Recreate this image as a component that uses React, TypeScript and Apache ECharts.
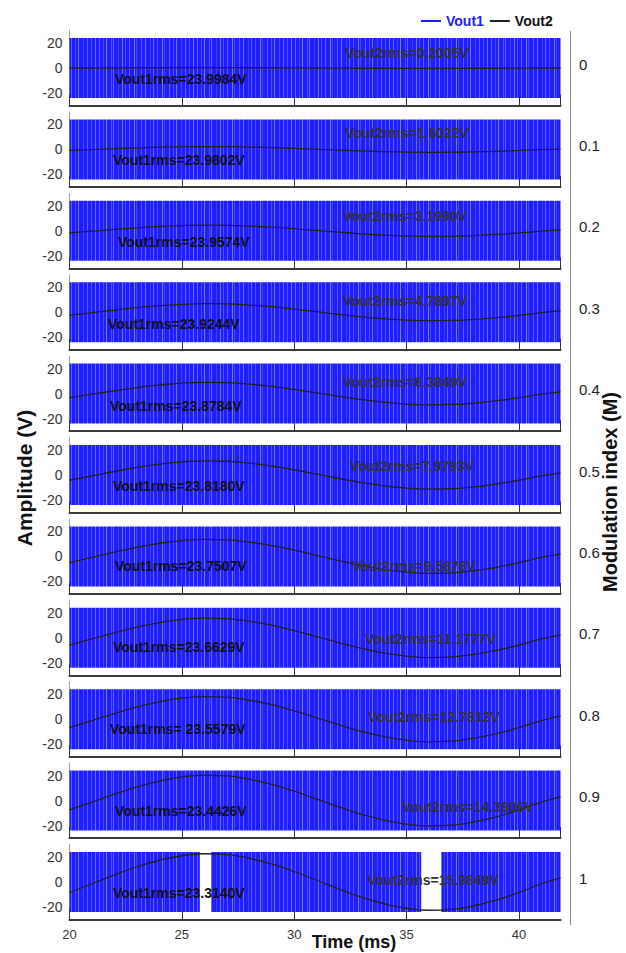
import React, { useEffect, useRef } from 'react';
import * as echarts from 'echarts';

// ---------------- data ----------------
const TIME = [20, 21, 22, 23, 24, 25, 26, 27, 28, 29, 30, 31, 32, 33, 34, 35, 36, 37, 38, 39, 40, 41, 41.85];
const MOD_INDEX = ['0', '0.1', '0.2', '0.3', '0.4', '0.5', '0.6', '0.7', '0.8', '0.9', '1'];
const Y_TICKS = [-20, 0, 20];
const X_MIN = 20;
const X_MAX = 41.85;
const X_STEP = 5;
const Y_MIN = -30;
const Y_MAX = 30;
const VOUT1_LEVEL = 24;

// Vout1 (PWM) filled spans [start, end] in ms for each modulation index
const VOUT1_SEGMENTS = [
  [[20, 41.85]],
  [[20, 41.85]],
  [[20, 41.85]],
  [[20, 41.85]],
  [[20, 41.85]],
  [[20, 41.85]],
  [[20, 41.85]],
  [[20, 41.85]],
  [[20, 41.85]],
  [[20, 41.85]],
  [[20, 25.8], [26.3, 35.65], [36.55, 41.85]],
];

// Vout2 (filtered output), read at TIME points
const VOUT2_M00 = [-0.1, 0, 0.1, 0.2, 0.2, 0.3, 0.3, 0.3, 0.2, 0.2, 0.1, 0, -0.1, -0.2, -0.2, -0.3, -0.3, -0.3, -0.2, -0.2, -0.1, 0, 0];
const VOUT2_M01 = [-0.8, -0.1, 0.6, 1.2, 1.8, 2.1, 2.3, 2.2, 1.9, 1.5, 0.8, 0.1, -0.6, -1.2, -1.8, -2.1, -2.3, -2.2, -1.9, -1.5, -0.8, -0.1, 0.3];
const VOUT2_M02 = [-1.7, -0.3, 1.1, 2.4, 3.5, 4.2, 4.5, 4.4, 3.8, 2.9, 1.7, 0.3, -1.1, -2.4, -3.5, -4.2, -4.5, -4.4, -3.8, -2.9, -1.7, -0.3, 0.7];
const VOUT2_M03 = [-2.5, -0.4, 1.7, 3.7, 5.2, 6.3, 6.8, 6.6, 5.7, 4.4, 2.5, 0.4, -1.7, -3.7, -5.2, -6.3, -6.8, -6.6, -5.7, -4.4, -2.5, -0.4, 1.0];
const VOUT2_M04 = [-3.3, -0.5, 2.2, 4.8, 6.9, 8.4, 9.0, 8.7, 7.6, 5.7, 3.3, 0.5, -2.2, -4.8, -6.9, -8.4, -9.0, -8.7, -7.6, -5.7, -3.3, -0.5, 1.3];
const VOUT2_M05 = [-4.2, -0.7, 2.8, 6.1, 8.7, 10.5, 11.3, 11.0, 9.5, 7.2, 4.2, 0.7, -2.8, -6.1, -8.7, -10.5, -11.3, -11.0, -9.5, -7.2, -4.2, -0.7, 1.7];
const VOUT2_M06 = [-5.0, -0.8, 3.4, 7.3, 10.5, 12.6, 13.6, 13.2, 11.4, 8.7, 5.0, 0.8, -3.4, -7.3, -10.5, -12.6, -13.6, -13.2, -11.4, -8.7, -5.0, -0.8, 2.0];
const VOUT2_M07 = [-5.8, -0.9, 4.0, 8.5, 12.2, 14.7, 15.8, 15.3, 13.3, 10.1, 5.8, 0.9, -4.0, -8.5, -12.2, -14.7, -15.8, -15.3, -13.3, -10.1, -5.8, -0.9, 2.4];
const VOUT2_M08 = [-6.7, -1.1, 4.5, 9.8, 13.9, 16.8, 18.1, 17.6, 15.2, 11.6, 6.7, 1.1, -4.5, -9.8, -13.9, -16.8, -18.1, -17.6, -15.2, -11.6, -6.7, -1.1, 2.7];
const VOUT2_M09 = [-7.5, -1.2, 5.1, 11.0, 15.6, 18.9, 20.3, 19.7, 17.1, 13.0, 7.5, 1.2, -5.1, -11.0, -15.6, -18.9, -20.3, -19.7, -17.1, -13.0, -7.5, -1.2, 3.0];
const VOUT2_M10 = [-8.4, -1.4, 5.7, 12.2, 17.4, 21.0, 22.6, 21.9, 19.0, 14.5, 8.4, 1.4, -5.7, -12.2, -17.4, -21.0, -22.6, -21.9, -19.0, -14.5, -8.4, -1.4, 3.3];
const VOUT2 = [VOUT2_M00, VOUT2_M01, VOUT2_M02, VOUT2_M03, VOUT2_M04, VOUT2_M05, VOUT2_M06, VOUT2_M07, VOUT2_M08, VOUT2_M09, VOUT2_M10];

const VOUT1_RMS = ['23.9984', '23.9802', '23.9574', '23.9244', '23.8784', '23.8180', '23.7507', '23.6629', ' 23.5579', '23.4426', '23.3140'];
const VOUT2_RMS = ['0.2005', '1.6022', '3.1990', '4.7897', '6.3849', '7.9793', '9.5876', '11.1777', '12.7812', '14.3806', '15.9849'];

// ---------------- layout / style ----------------
const FONT = '"Liberation Sans", Arial, Helvetica, sans-serif';
const PANEL_TOP0 = 30.5;
const PANEL_STEP = 81.4;
const PANEL_H = 75;
const PLOT_LEFT = 69.5;
const PLOT_W = 491;
const BLUE = '#1e1eff';
// [left x, offset from zero line]
const VOUT1_LABEL_POS = [[115, 11], [113, 11], [118, 11], [108, 12], [110, 12], [113, 11], [115, 10], [113, 9], [110, 10], [115, 10], [113, 11]];
const VOUT2_LABEL_POS = [[345, -15], [345, -16], [343, -15], [343, -11], [343, -12], [350, -9], [352, 10], [365, 1], [368, -2], [402, 6], [367, -2]];
// texture of the dense PWM pulses: [x offset in tile, white alpha]
const STRIPES = [
  [1, 0.3], [5, 0.18], [8, 0.4], [13, 0.22], [15, 0.3], [20, 0.15], [24, 0.35], [27, 0.2], [31, 0.28],
  [36, 0.4], [38, 0.18], [43, 0.25], [47, 0.35], [52, 0.15], [55, 0.3], [59, 0.22], [64, 0.38], [66, 0.16],
  [71, 0.28], [75, 0.2], [78, 0.36], [83, 0.18], [87, 0.3], [91, 0.22], [95, 0.35],
];
const TILE_W = 98;

export default function App() {
  const ref = useRef<HTMLDivElement>(null);

  useEffect(() => {
    document.body.style.margin = '0';
    if (!ref.current) return;
    const chart = echarts.init(ref.current, undefined, { renderer: 'svg' });

    const cv = document.createElement('canvas');
    cv.width = TILE_W;
    cv.height = 8;
    const ctx = cv.getContext('2d');
    if (ctx) {
      ctx.fillStyle = BLUE;
      ctx.fillRect(0, 0, TILE_W, 8);
      STRIPES.forEach(([x, a]) => {
        ctx.fillStyle = `rgba(255,255,255,${a})`;
        ctx.fillRect(x, 0, 1, 8);
      });
    }
    const pattern: any = { image: cv, repeat: 'repeat', imageWidth: TILE_W, imageHeight: 8 };

    const n = MOD_INDEX.length;
    const grids: any[] = [];
    const xAxes: any[] = [];
    const yAxes: any[] = [];
    const series: any[] = [];
    const graphics: any[] = [];

    for (let i = 0; i < n; i++) {
      const top = PANEL_TOP0 + i * PANEL_STEP;
      const zeroY = top + PANEL_H / 2;
      grids.push({ left: PLOT_LEFT, top, width: PLOT_W, height: PANEL_H, containLabel: false, outerBoundsMode: 'none' });
      xAxes.push({
        type: 'value', gridIndex: i, min: X_MIN, max: X_MAX, interval: X_STEP,
        axisLine: { show: true, onZero: false, lineStyle: { color: '#3a3a3a', width: 2 } },
        axisTick: { show: true, inside: true, length: 11, lineStyle: { color: '#333', width: 1 } },
        axisLabel: { show: i === n - 1, color: '#333', fontSize: 13, fontFamily: FONT, margin: 8, showMaxLabel: false },
        splitLine: { show: false },
      });
      yAxes.push({
        type: 'value', gridIndex: i, min: Y_MIN, max: Y_MAX,
        axisLine: { show: true, onZero: false, lineStyle: { color: '#a0a0a0', width: 1 } },
        axisTick: { show: true, inside: true, length: 4, customValues: Y_TICKS, lineStyle: { color: '#999' } },
        axisLabel: { show: true, customValues: Y_TICKS, color: '#333', fontSize: 14, fontFamily: FONT, margin: 7 },
        splitLine: { show: false },
      });
      series.push({
        type: 'custom', name: 'Vout1', xAxisIndex: i, yAxisIndex: i, silent: true, z: 1,
        itemStyle: { color: BLUE },
        encode: { x: [0, 1], y: 2 },
        data: VOUT1_SEGMENTS[i].map((s) => [s[0], s[1], VOUT1_LEVEL]),
        renderItem: (params: any, api: any) => {
          const p0 = api.coord([api.value(0), api.value(2)]);
          const p1 = api.coord([api.value(1), -api.value(2)]);
          return {
            type: 'rect',
            shape: { x: p0[0], y: p0[1], width: p1[0] - p0[0], height: p1[1] - p0[1] },
            style: { fill: pattern },
          };
        },
      });
      series.push({
        type: 'line', name: 'Vout2', xAxisIndex: i, yAxisIndex: i, z: 3,
        data: TIME.map((t, j) => [t, VOUT2[i][j]]),
        smooth: true, showSymbol: false, symbol: 'none', silent: true,
        lineStyle: { color: '#222', width: 1.3 },
        itemStyle: { color: '#222' },
      });
      graphics.push({
        type: 'text', x: VOUT1_LABEL_POS[i][0], y: zeroY + VOUT1_LABEL_POS[i][1], z: 10,
        style: {
          text: 'Vout1rms=' + VOUT1_RMS[i] + 'V', fill: '#111', font: `bold 14px ${FONT}`,
          textAlign: 'left', align: 'left', textVerticalAlign: 'middle', verticalAlign: 'middle',
        },
      });
      graphics.push({
        type: 'text', x: VOUT2_LABEL_POS[i][0], y: zeroY + VOUT2_LABEL_POS[i][1], z: 10,
        style: {
          text: 'Vout2rms=' + VOUT2_RMS[i] + 'V', fill: '#333', font: `bold 14px ${FONT}`,
          textAlign: 'left', align: 'left', textVerticalAlign: 'middle', verticalAlign: 'middle',
        },
      });
      graphics.push({
        type: 'text', x: 579, y: zeroY - 4, z: 10,
        style: {
          text: MOD_INDEX[i], fill: '#222', font: `15px ${FONT}`,
          textAlign: 'left', align: 'left', textVerticalAlign: 'middle', verticalAlign: 'middle',
        },
      });
    }

    graphics.push({ type: 'line', shape: { x1: 570.5, y1: 31, x2: 570.5, y2: 925 }, style: { stroke: '#888', lineWidth: 1 } });
    graphics.push({
      type: 'text', x: 24, y: 478, rotation: Math.PI / 2,
      style: { text: 'Amplitude (V)', fill: '#111', font: `bold 21px ${FONT}`, textAlign: 'center', align: 'center', textVerticalAlign: 'middle', verticalAlign: 'middle' },
    });
    graphics.push({
      type: 'text', x: 610, y: 492, rotation: Math.PI / 2,
      style: { text: 'Modulation index (M)', fill: '#111', font: `bold 20px ${FONT}`, textAlign: 'center', align: 'center', textVerticalAlign: 'middle', verticalAlign: 'middle' },
    });
    graphics.push({
      type: 'text', x: 354, y: 942,
      style: { text: 'Time (ms)', fill: '#111', font: `bold 18px ${FONT}`, textAlign: 'center', align: 'center', textVerticalAlign: 'middle', verticalAlign: 'middle' },
    });

    chart.setOption({
      animation: false,
      backgroundColor: '#fff',
      legend: {
        left: 416, top: 9, itemWidth: 20, itemHeight: 2, itemGap: 6, icon: 'rect', selectedMode: false,
        textStyle: { fontWeight: 'bold', fontSize: 14, fontFamily: FONT },
        data: [
          { name: 'Vout1', icon: 'rect', itemStyle: { color: BLUE }, textStyle: { color: BLUE } },
          { name: 'Vout2', icon: 'rect', itemStyle: { color: '#222' }, textStyle: { color: '#111' } },
        ],
      },
      grid: grids,
      xAxis: xAxes,
      yAxis: yAxes,
      series,
      graphic: graphics,
    });

    return () => chart.dispose();
  }, []);

  return <div ref={ref} style={{ width: 626, height: 953 }} />;
}
